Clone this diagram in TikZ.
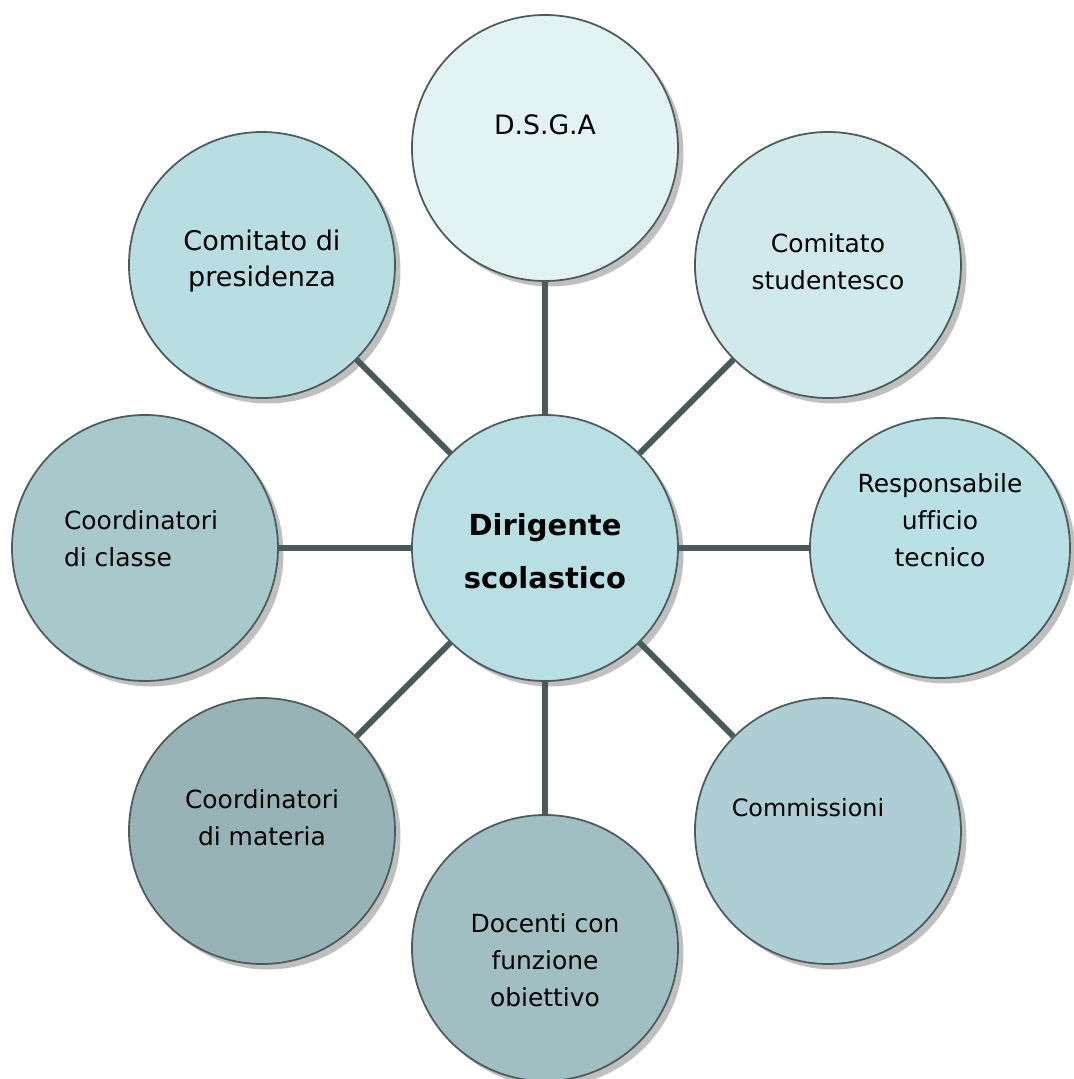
\documentclass[tikz,border=0pt]{standalone}
\usepackage{fontspec}
\setmainfont[Ligatures=NoCommon]{DejaVu Sans}
\usepackage{tikz}
\usetikzlibrary{positioning, shadows}
\usepackage{xcolor}

\definecolor{rimgray}{HTML}{4D5B5C}
\definecolor{linkgray}{HTML}{4A5A5B}
\definecolor{fillboss}{HTML}{B8DFE3}
\definecolor{filldsga}{HTML}{E3F2F3}
\definecolor{fillstud}{HTML}{D0E9EB}
\definecolor{fillresp}{HTML}{B9E0E4}
\definecolor{fillcomm}{HTML}{ADCED2}
\definecolor{filldoc}{HTML}{A1BFC2}
\definecolor{fillmat}{HTML}{97B3B5}
\definecolor{fillcla}{HTML}{A8C9CC}
\definecolor{fillpres}{HTML}{B8DEE2}

\begin{document}
\begin{tikzpicture}[
        bubble/.style={draw=rimgray, line width=1pt, circle, minimum size=5.32cm, inner sep=0pt,
          drop shadow={shadow xshift=0.11cm, shadow yshift=-0.11cm, fill=black!25, opacity=1}},
        caption/.style={align=center, font=\fontsize{14.2}{21}\selectfont},
        link/.style={draw=linkgray, line width=3.4pt},
        node distance=8cm,
        on grid
      ]

      \useasboundingbox (-10.9,-10.62) rectangle (10.58,10.96);

      % Central circle
      \node [bubble, fill=fillboss] (boss) at (0,0) {};

      % Surrounding circles
      \node [bubble, fill=filldsga, above=of boss] (dsga) {};
      \node [bubble, fill=fillstud, above right=5.66cm and 5.66cm of boss] (stud) {};
      \node [bubble, fill=fillresp, minimum size=5.2cm, right=7.9cm of boss] (resp) {};
      \node [bubble, fill=fillcomm, below right=5.66cm and 5.66cm of boss] (comm) {};
      \node [bubble, fill=filldoc, below=of boss] (doc) {};
      \node [bubble, fill=fillmat, below left=5.66cm and 5.66cm of boss] (mat) {};
      \node [bubble, fill=fillcla, left=of boss] (cla) {};
      \node [bubble, fill=fillpres, above left=5.66cm and 5.66cm of boss] (pres) {};

      % Connectors
      \draw [link] (boss) -- (dsga);
      \draw [link] (boss) -- (stud);
      \draw [link] (boss) -- (resp);
      \draw [link] (boss) -- (comm);
      \draw [link] (boss) -- (doc);
      \draw [link] (boss) -- (mat);
      \draw [link] (boss) -- (cla);
      \draw [link] (boss) -- (pres);

      % Texts
      \node [caption, font=\bfseries\fontsize{16.5}{30}\selectfont] (bossT) at ([yshift=-0.06cm]boss.center) {Dirigente\\scolastico};
      \node [caption, font=\fontsize{15.2}{21}\selectfont] (dsgaT) at ([yshift=0.46cm]dsga.center) {D.S.G.A};
      \node [caption] (studT) at ([yshift=0.07cm]stud.center) {Comitato\\studentesco};
      \node [caption] (respT) at ([yshift=0.56cm]resp.center) {Responsabile\\ufficio\\tecnico};
      \node [caption, font=\fontsize{13.6}{21}\selectfont] (commT) at ([xshift=-0.4cm, yshift=0.46cm]comm.center) {Commissioni};
      \node [caption] (docT) at ([yshift=-0.24cm]doc.center) {Docenti con\\funzione\\obiettivo};
      \node [caption] (matT) at ([yshift=0.26cm]mat.center) {Coordinatori\\di materia};
      \node [caption, align=left] (claT) at ([xshift=-0.08cm, yshift=0.18cm]cla.center) {Coordinatori\\di classe};
      \node [caption, font=\fontsize{15.4}{21}\selectfont] (presT) at ([yshift=0.08cm]pres.center) {Comitato di\\presidenza};

\end{tikzpicture}
\end{document}
